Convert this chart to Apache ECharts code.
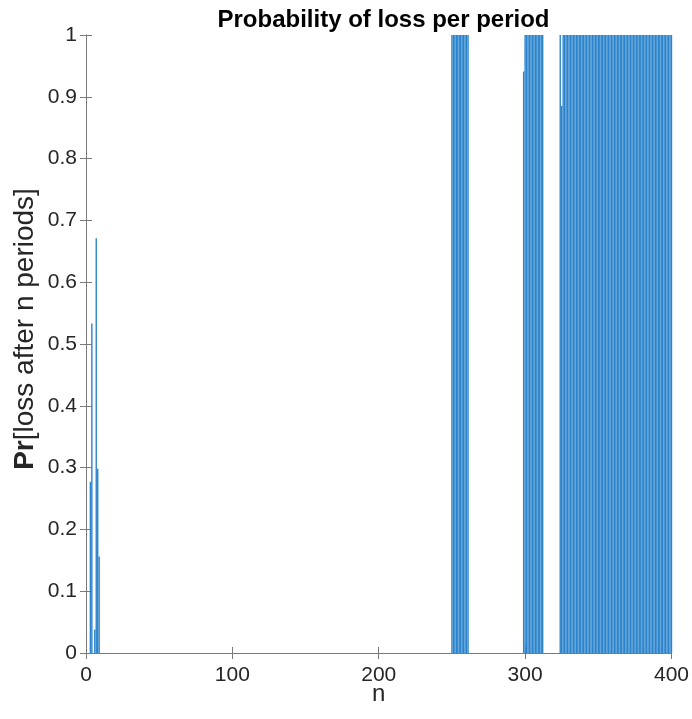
<!DOCTYPE html>
<html>
<head>
<meta charset="utf-8">
<style>
  html, body { margin: 0; padding: 0; background: #fff; }
  #chart { width: 692px; height: 719px; }
</style>
<script src="https://cdn.jsdelivr.net/npm/echarts@6/dist/echarts.min.js"></script>
</head>
<body>
<div id="chart"></div>
<script>
// Periods n with a nonzero probability of loss (all other periods are 0)
const periods = [
  3, 4, 6, 7, 8, 9,
  250, 251, 252, 253, 254, 255, 256, 257, 258, 259, 260, 261,
  299, 300, 301, 302, 303, 304, 305, 306, 307, 308, 309, 310, 311, 312,
  324, 325, 326, 327, 328, 329, 330, 331, 332, 333, 334, 335, 336, 337, 338, 339, 340,
  341, 342, 343, 344, 345, 346, 347, 348, 349, 350, 351, 352, 353, 354, 355, 356, 357,
  358, 359, 360, 361, 362, 363, 364, 365, 366, 367, 368, 369, 370, 371, 372, 373, 374,
  375, 376, 377, 378, 379, 380, 381, 382, 383, 384, 385, 386, 387, 388, 389, 390, 391,
  392, 393, 394, 395, 396, 397, 398, 399, 400
];

// Pr[loss after n periods] for each entry of `periods`
const lossProb = [
  0.277, 0.533, 0.038, 0.671, 0.298, 0.156,
  1, 1, 1, 1, 1, 1, 1, 1, 1, 1, 1, 1,
  0.941, 1, 1, 1, 1, 1, 1, 1, 1, 1, 1, 1, 1, 1,
  1, 0.885, 1, 1, 1, 1, 1, 1, 1, 1, 1, 1, 1, 1, 1, 1, 1,
  1, 1, 1, 1, 1, 1, 1, 1, 1, 1, 1, 1, 1, 1, 1, 1, 1,
  1, 1, 1, 1, 1, 1, 1, 1, 1, 1, 1, 1, 1, 1, 1, 1, 1,
  1, 1, 1, 1, 1, 1, 1, 1, 1, 1, 1, 1, 1, 1, 1, 1, 1,
  1, 1, 1, 1, 1, 1, 1, 1, 1
];

const xTicks = [0, 100, 200, 300, 400];
const yTicks = [0, 0.1, 0.2, 0.3, 0.4, 0.5, 0.6, 0.7, 0.8, 0.9, 1];

const FONT = '"Liberation Sans", Arial, Helvetica, sans-serif';
const AXIS_COLOR = '#7a7a7a';
const TEXT_COLOR = '#262626';

const barData = periods.map((n, i) => [n, lossProb[i]]);

const chart = echarts.init(document.getElementById('chart'), null, { renderer: 'canvas' });

const commonLine = { show: true, lineStyle: { color: AXIS_COLOR, width: 1 } };
const commonTick = { show: true, inside: true, length: 6, lineStyle: { color: AXIS_COLOR, width: 1 } };

chart.setOption({
  animation: false,
  backgroundColor: '#ffffff',
  title: {
    text: 'Probability of loss per period',
    left: 378.5,
    textAlign: 'center',
    top: 3,
    textStyle: { fontFamily: FONT, fontWeight: 'bold', fontSize: 24, color: '#000000' }
  },
  grid: { left: 86, right: 20, top: 35, bottom: 66, containLabel: false },
  xAxis: [
    {
      type: 'value',
      min: xTicks[0],
      max: xTicks[xTicks.length - 1],
      interval: 100,
      name: 'n',
      nameLocation: 'middle',
      nameGap: 29,
      nameMoveOverlap: false,
      nameTextStyle: { fontFamily: FONT, fontSize: 24, color: TEXT_COLOR },
      axisLine: commonLine,
      axisTick: commonTick,
      splitLine: { show: false },
      axisLabel: { fontFamily: FONT, fontSize: 21, color: TEXT_COLOR, margin: 12 }
    },
    {
      type: 'value',
      position: 'top',
      min: xTicks[0],
      max: xTicks[xTicks.length - 1],
      interval: 100,
      axisLine: commonLine,
      axisTick: commonTick,
      splitLine: { show: false },
      axisLabel: { show: false }
    }
  ],
  yAxis: [
    {
      type: 'value',
      min: yTicks[0],
      max: yTicks[yTicks.length - 1],
      interval: 0.1,
      name: '{b|Pr}{r|[loss after n periods]}',
      nameLocation: 'middle',
      nameGap: 47,
      nameRotate: 90,
      nameMoveOverlap: false,
      nameTextStyle: {
        fontFamily: FONT,
        fontSize: 28,
        color: TEXT_COLOR,
        padding: [0, 0, 0, 30],
        rich: {
          b: { fontFamily: FONT, fontSize: 28, fontWeight: 'bold', color: TEXT_COLOR },
          r: { fontFamily: FONT, fontSize: 28, color: TEXT_COLOR }
        }
      },
      axisLine: commonLine,
      axisTick: commonTick,
      splitLine: { show: false },
      axisLabel: {
        fontFamily: FONT,
        fontSize: 21,
        color: TEXT_COLOR,
        margin: 9,
        formatter: v => String(Math.round(v * 10) / 10)
      }
    },
    {
      type: 'value',
      position: 'right',
      min: yTicks[0],
      max: yTicks[yTicks.length - 1],
      interval: 0.1,
      axisLine: commonLine,
      axisTick: commonTick,
      splitLine: { show: false },
      axisLabel: { show: false }
    }
  ],
  series: [
    {
      type: 'bar',
      xAxisIndex: 0,
      yAxisIndex: 0,
      data: barData,
      barWidth: 1.4,
      itemStyle: { color: '#2b84cb' },
      emphasis: { disabled: true }
    }
  ]
});
</script>
</body>
</html>
